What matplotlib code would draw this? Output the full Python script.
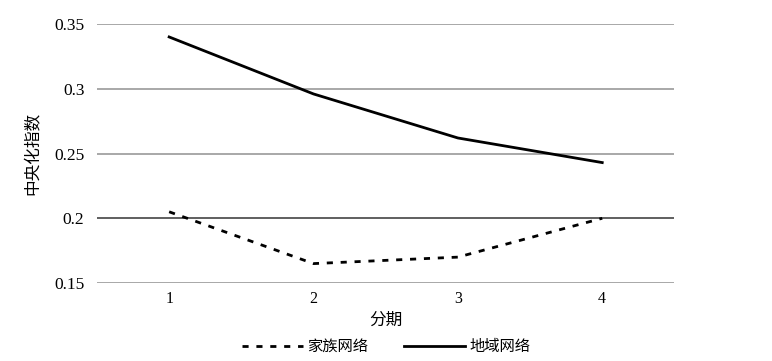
import matplotlib
matplotlib.use("Agg")
import matplotlib.pyplot as plt

periods = [1, 2, 3, 4]
family_net = [0.205, 0.165, 0.170, 0.200]
region_net = [0.340, 0.296, 0.262, 0.243]
yticks = [0.15, 0.2, 0.25, 0.3, 0.35]
ytick_labels = ["0.15", "0.2", "0.25", "0.3", "0.35"]

plt.rcParams['font.family'] = ['Liberation Serif', 'Noto Sans CJK SC']

fig = plt.figure(figsize=(7.72, 3.61), dpi=100)
ax = fig.add_axes([0.1256, 0.216, 0.748, 0.7175])

for y in yticks:
    c = '#444444' if y == 0.2 else '#999999'
    ax.axhline(y, color=c, lw=1.2, zorder=1)

ax.plot(periods, family_net, color='black', lw=2, ls=(0, (2.2, 2.8)), label='家族网络', zorder=3)
ax.plot(periods, region_net, color='black', lw=2, label='地域网络', zorder=3)

ax.set_xlim(0.5, 4.5)
ax.set_ylim(0.15, 0.35)
ax.set_xticks(periods)
ax.set_xticklabels([str(p) for p in periods], fontsize=11.5)
ax.set_yticks(yticks)
ax.set_yticklabels(ytick_labels, fontsize=12.5)
ax.tick_params(length=0, pad=6)
ax.tick_params(axis='y', pad=9)
for s in ax.spines.values():
    s.set_visible(False)

ax.set_xlabel('分期', fontsize=12, family=['Noto Sans CJK SC'], labelpad=3)
ax.set_ylabel('中央化指数', fontsize=12, family=['Noto Sans CJK SC'], labelpad=9)

leg = fig.legend(loc='center', bbox_to_anchor=(0.5, 0.04), ncol=2, frameon=False,
                 prop={'family': 'Noto Sans CJK SC', 'size': 11},
                 handlelength=4.0, handletextpad=0.3, columnspacing=2.3)

fig.savefig('out.png', dpi=100)
